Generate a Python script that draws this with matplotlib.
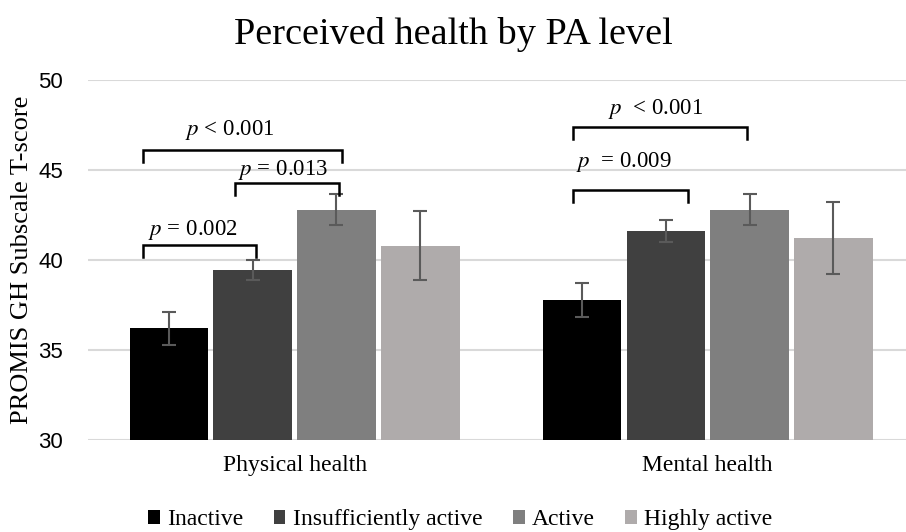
import numpy as np
import matplotlib.pyplot as plt

groups = ["Physical health", "Mental health"]
levels = ["Inactive", "Insufficiently active", "Active", "Highly active"]
means = {
    "Inactive":              [36.2, 37.8],
    "Insufficiently active": [39.45, 41.6],
    "Active":                [42.8, 42.8],
    "Highly active":         [40.8, 41.2],
}
errors = {
    "Inactive":              [0.9, 0.95],
    "Insufficiently active": [0.55, 0.6],
    "Active":                [0.85, 0.85],
    "Highly active":         [1.9, 2.0],
}
colors = ["#000000", "#404040", "#7f7f7f", "#afabab"]

# significance brackets: (x_left, x_right, y_top, label, text_x, text_y)
brackets = [
    (-0.368, 0.116, 46.1, "$p$ < 0.001", -0.157, 47.2),
    (-0.145, 0.107, 44.28, "$p$ = 0.013", -0.027, 45.0),
    (-0.368, -0.094, 40.83, "$p$ = 0.002", -0.247, 41.67),
    (0.674, 1.096, 47.39, "$p$  < 0.001", 0.875, 48.4),
    (0.674, 0.953, 43.89, "$p$  = 0.009", 0.797, 45.44),
]

plt.rcParams['font.family'] = ['Liberation Serif', 'DejaVu Serif']
plt.rcParams['mathtext.fontset'] = 'stix'

fig = plt.figure(figsize=(9.06, 5.32), dpi=100)
ax = fig.add_axes([88 / 906, 92 / 532, 818 / 906, 360 / 532])

x = np.arange(len(groups))
width = 0.19
step = 0.203
for i, lvl in enumerate(levels):
    pos = x + (i - 1.5) * step
    ax.bar(pos, np.array(means[lvl]) - 30, width, bottom=30, color=colors[i],
           label=lvl, zorder=2)
    ax.errorbar(pos, means[lvl], yerr=errors[lvl], fmt="none",
                ecolor="#5a5a5a", elinewidth=1.5, capsize=5, capthick=1.5,
                zorder=3)

for x0, x1, y, label, tx, ty in brackets:
    ax.plot([x0, x0, x1, x1], [y - 0.65, y, y, y - 0.65], color="black",
            lw=1.8, solid_joinstyle="miter", zorder=4)
    ax.text(tx, ty, label, ha="center", va="center", fontsize=16.5)

ax.set_ylim(30, 50)
ax.set_xlim(-0.5, 1.48)
ax.set_yticks([30, 35, 40, 45, 50])
ax.set_yticklabels(["30", "35", "40", "45", "50"], family="Liberation Sans",
                   fontsize=16)
ax.set_xticks(x)
ax.set_xticklabels(groups, fontsize=17)
ax.tick_params(length=0, axis="y", pad=18)
ax.tick_params(length=0, axis="x", pad=11)
ax.yaxis.grid(True, color="#d9d9d9", lw=1.5, zorder=0)
ax.set_axisbelow(True)
for s in ax.spines.values():
    s.set_visible(False)

ax.set_ylabel("PROMIS GH Subscale T-score", fontsize=19, labelpad=4)
fig.text(0.5, 1 - 35 / 532, "Perceived health by PA level", fontsize=27.5,
         ha="center", va="center")

ax.legend(loc="center", bbox_to_anchor=(0.455, -0.222), ncol=4,
          frameon=False, fontsize=17, handlelength=0.5, handleheight=0.5,
          handletextpad=0.3, columnspacing=1.3)

plt.savefig("out.png", dpi=100)
